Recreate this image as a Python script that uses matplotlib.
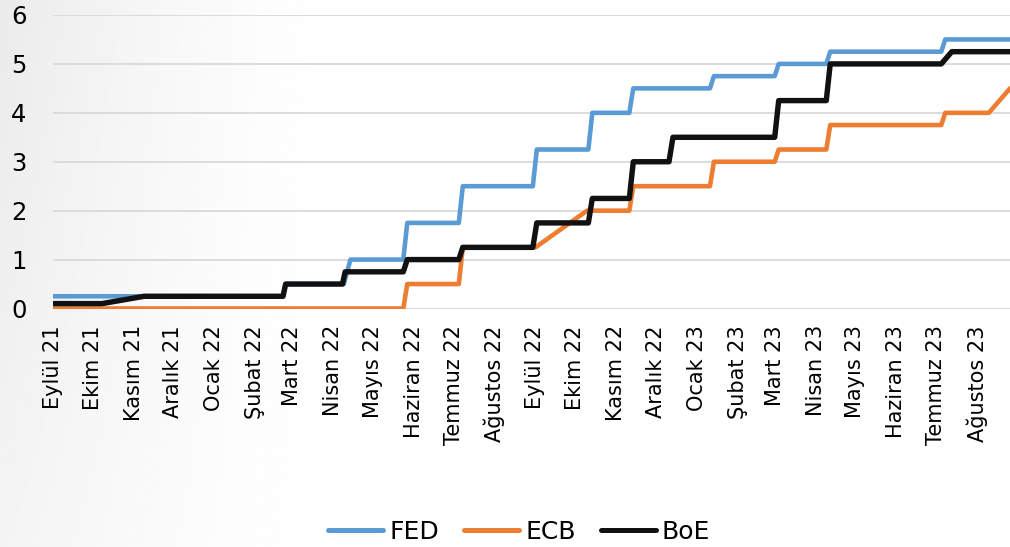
import numpy as np
import pandas as pd
import matplotlib
matplotlib.use("Agg")
import matplotlib.pyplot as plt

# policy rates (%), vertices of the step lines
fed_dates = ['2021-09-01', '2022-02-22', '2022-02-24', '2022-04-09', '2022-04-14',
             '2022-05-24', '2022-05-27', '2022-07-05', '2022-07-08', '2022-08-30',
             '2022-09-02', '2022-10-11', '2022-10-14', '2022-11-11', '2022-11-14',
             '2023-01-11', '2023-01-14', '2023-03-01', '2023-03-04', '2023-04-09',
             '2023-04-12', '2023-07-05', '2023-07-08', '2023-08-26']
fed_rates = [0.25, 0.25, 0.5, 0.5, 1.0,
             1.0, 1.75, 1.75, 2.5, 2.5,
             3.25, 3.25, 4.0, 4.0, 4.5,
             4.5, 4.75, 4.75, 5.0, 5.0,
             5.25, 5.25, 5.5, 5.5]

ecb_dates = ['2021-09-01', '2022-05-24', '2022-05-27', '2022-07-05', '2022-07-08',
             '2022-09-01', '2022-10-10', '2022-11-11', '2022-11-14', '2023-01-11',
             '2023-01-14', '2023-03-01', '2023-03-04', '2023-04-09', '2023-04-12',
             '2023-07-05', '2023-07-08', '2023-08-10', '2023-08-26']
ecb_rates = [0.0, 0.0, 0.5, 0.5, 1.25,
             1.25, 2.0, 2.0, 2.5, 2.5,
             3.0, 3.0, 3.25, 3.25, 3.75,
             3.75, 4.0, 4.0, 4.5]

boe_dates = ['2021-09-01', '2021-10-08', '2021-11-09', '2022-02-22', '2022-02-24',
             '2022-04-08', '2022-04-10', '2022-05-24', '2022-05-27', '2022-07-05',
             '2022-07-08', '2022-08-30', '2022-09-02', '2022-10-11', '2022-10-14',
             '2022-11-11', '2022-11-14', '2022-12-11', '2022-12-14', '2023-03-01',
             '2023-03-04', '2023-04-09', '2023-04-12', '2023-07-05', '2023-07-13',
             '2023-08-26']
boe_rates = [0.1, 0.1, 0.25, 0.25, 0.5,
             0.5, 0.75, 0.75, 1.0, 1.0,
             1.25, 1.25, 1.75, 1.75, 2.25,
             2.25, 3.0, 3.0, 3.5, 3.5,
             4.25, 4.25, 5.0, 5.0, 5.25,
             5.25]

month_names = ['Ocak', 'Şubat', 'Mart', 'Nisan', 'Mayıs', 'Haziran', 'Temmuz',
               'Ağustos', 'Eylül', 'Ekim', 'Kasım', 'Aralık']
tick_months = pd.date_range('2021-09-01', '2023-08-01', freq='MS')
tick_labels = [f"{month_names[d.month - 1]} {d.year % 100}" for d in tick_months]

plt.rcParams['font.family'] = ['DejaVu Sans']

fig = plt.figure(figsize=(10.1, 5.47), dpi=100)

# soft grey shading on the left side of the background
bg = fig.add_axes([0, 0, 1, 1], zorder=-10)
xx, yy = np.meshgrid(np.linspace(0, 1, 300), np.linspace(0, 1, 200))
shade = np.clip(1 - xx / 0.35, 0, 1) ** 1.5 * (0.55 + 0.45 * yy)
bg.imshow(1 - 0.08 * shade, cmap='gray', vmin=0, vmax=1, aspect='auto',
          origin='lower', extent=[0, 1, 0, 1])
bg.axis('off')

ax = fig.add_axes([0.0525, 0.436, 0.9475, 0.5366])
ax.patch.set_alpha(0)

ax.plot(pd.to_datetime(fed_dates), fed_rates, color='#5B9BD5', lw=3.3,
        label='FED', solid_capstyle='round', solid_joinstyle='round')
ax.plot(pd.to_datetime(ecb_dates), ecb_rates, color='#ED7D31', lw=3.3,
        label='ECB', solid_capstyle='round', solid_joinstyle='round')
ax.plot(pd.to_datetime(boe_dates), boe_rates, color='#111111', lw=3.9,
        label='BoE', solid_capstyle='round', solid_joinstyle='round')

ax.set_xlim(pd.Timestamp('2021-09-01'), pd.Timestamp('2023-08-26'))
ax.set_ylim(0, 6)
ax.set_yticks(range(0, 7))
ax.set_xticks(tick_months)
ax.set_xticklabels(tick_labels, rotation=90, fontsize=15)
ax.tick_params(axis='y', length=0, pad=19, labelsize=17.5)
ax.tick_params(axis='x', length=0, pad=12)
ax.grid(axis='y', color='#d9d9d9', lw=1.3)
ax.set_axisbelow(True)
for s in ax.spines.values():
    s.set_visible(False)

leg = fig.legend(loc='center', bbox_to_anchor=(0.514, 0.027), ncol=3, frameon=False,
                 fontsize=18, handlelength=2.2, handletextpad=0.25, columnspacing=1.0)
for h in leg.get_lines():
    h.set_linewidth(3.6)
    h.set_solid_capstyle('round')

fig.savefig('out.png', dpi=100)
